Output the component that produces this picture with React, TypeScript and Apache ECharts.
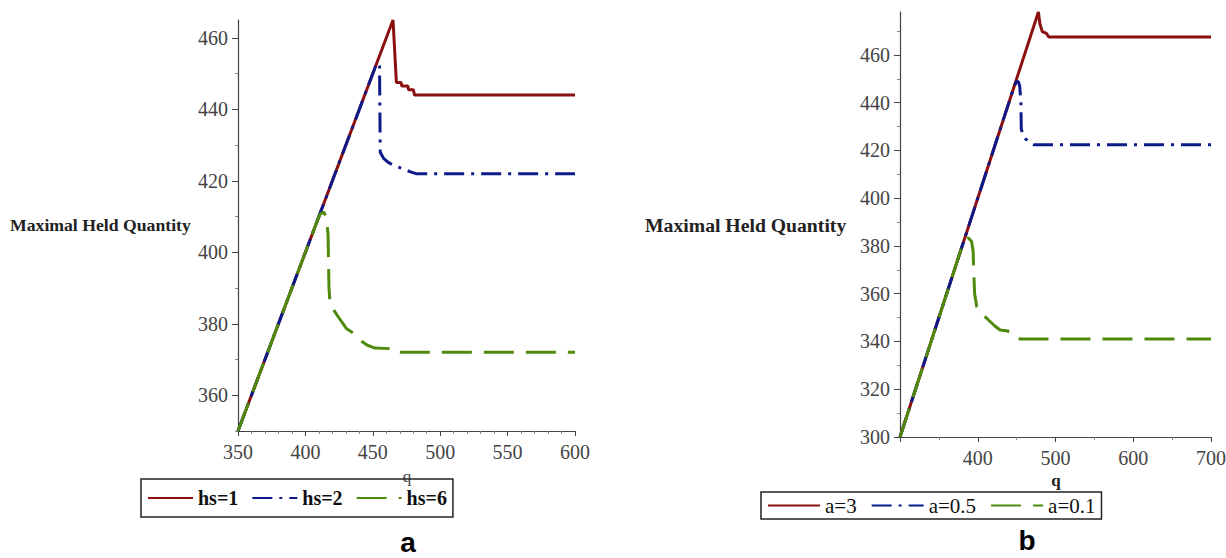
import React, { useEffect, useRef } from "react";
import * as echarts from "echarts";

// ---- Panel a: q vs Maximal Held Quantity for hs = 1, 2, 6
const hs1Q = [350, 465, 467.5, 471, 471.5, 476, 476.5, 480, 481, 600];
const hs1Y = [350, 465, 447.5, 447.5, 446.5, 446.5, 445.5, 445.5, 444, 444];
const hs2Q = [350, 452, 454, 455, 455.5, 458, 461, 465, 472, 478, 482, 600];
const hs2Y = [350, 452, 453, 452, 428, 426.3, 425.3, 424.4, 423.4, 422.5, 422, 422];
const hs6Q = [350, 409, 411, 413.5, 415.5, 416.8, 417.5, 418.2, 420.7, 425.7, 430.6, 435.5, 441.7, 446, 451.6, 466, 468, 600];
const hs6Y = [350, 409, 410.7, 411.3, 410, 405, 390, 386, 384, 381.2, 378.6, 377.4, 375.1, 374, 373.2, 373, 372, 372];

// ---- Panel b: q vs Maximal Held Quantity for a = 3, 0.5, 0.1
const a3Q = [300, 478, 480, 483, 488.5, 491.5, 700];
const a3Y = [300, 478, 473, 469.8, 469, 467.5, 467.5];
const a05Q = [300, 446, 449, 452, 454, 455.5, 456, 458, 461, 466, 472, 700];
const a05Y = [300, 446, 448.5, 449, 447, 440, 429, 426.5, 425, 423.6, 422.4, 422.4];
const a01Q = [300, 380, 384, 388, 392, 394, 395, 396, 398.7, 405, 413.8, 422, 428.7, 437, 446, 450, 455, 700];
const a01Y = [300, 380, 382.5, 383.3, 382, 378, 368, 360, 354.6, 351.8, 349, 346.5, 344.8, 344.5, 343.4, 341.6, 341, 341];

// ---- ticks
const leftYLabels = [360, 380, 400, 420, 440, 460];
const leftYMinor = [350, 370, 390, 410, 430, 450];
const rightYLabels = [300, 320, 340, 360, 380, 400, 420, 440, 460];
const rightYMinor = [310, 330, 350, 370, 390, 410, 430, 450, 470];

const namesA = ["hs=1", "hs=2", "hs=6"];
const namesB = ["a=3", "a=0.5", "a=0.1"];

const RED = "#8a1010";
const BLUE = "#0c1a8a";
const GREEN = "#4f8a0c";
const AXIS = "#444";
const SERIF = "Liberation Serif";

const zip = (q: number[], y: number[]) => q.map((v, i) => [v, y[i]]);

function lineSeries(name: string, q: number[], y: number[], color: string, type: any, gi: number, yi: number, z: number) {
  return {
    type: "line",
    name,
    xAxisIndex: gi,
    yAxisIndex: yi,
    data: zip(q, y),
    symbol: "none",
    showSymbol: false,
    z,
    itemStyle: { color },
    lineStyle: { color, width: 3, type, cap: "butt" },
  };
}

function xAxis(gi: number, min: number, max: number, interval: number, minorSplit: number, hideMin: boolean) {
  return {
    type: "value",
    gridIndex: gi,
    min,
    max,
    interval,
    axisLine: { show: true, onZero: false, lineStyle: { color: AXIS, width: 1.2 } },
    axisTick: { show: true, length: 5, lineStyle: { color: AXIS } },
    minorTick: { show: true, splitNumber: minorSplit, length: 3, lineStyle: { color: "#888" } },
    splitLine: { show: false },
    axisLabel: {
      fontFamily: SERIF,
      fontSize: 20,
      color: AXIS,
      margin: 11,
      formatter: (v: number) => (hideMin && v === min ? "" : String(v)),
    },
  };
}

function yAxisMajor(gi: number, min: number, max: number, labels: number[]) {
  return {
    type: "value",
    gridIndex: gi,
    min,
    max,
    position: "left",
    axisLine: { show: true, onZero: false, lineStyle: { color: AXIS, width: 1.2 } },
    axisTick: { show: true, length: 6, customValues: labels, lineStyle: { color: AXIS } },
    splitLine: { show: false },
    axisLabel: { fontFamily: SERIF, fontSize: 20, color: AXIS, margin: 10, customValues: labels },
  };
}

function yAxisMinor(gi: number, min: number, max: number, ticks: number[]) {
  return {
    type: "value",
    gridIndex: gi,
    min,
    max,
    position: "left",
    axisLine: { show: false, onZero: false },
    axisTick: { show: true, length: 3, customValues: ticks, lineStyle: { color: "#888" } },
    splitLine: { show: false },
    axisLabel: { show: false },
  };
}

export default function App() {
  const ref = useRef<HTMLDivElement>(null);
  useEffect(() => {
    if (!ref.current) return;
    const chart = echarts.init(ref.current, null, { renderer: "svg" });
    const option: any = {
      animation: false,
      backgroundColor: "#fff",
      textStyle: { fontFamily: SERIF },
      grid: [
        { left: 238, top: 20, width: 337, height: 411, outerBoundsMode: "none" },
        { left: 900, top: 12, width: 311, height: 425, outerBoundsMode: "none" },
      ],
      xAxis: [xAxis(0, 350, 600, 50, 5, false), xAxis(1, 300, 700, 100, 2, true)],
      yAxis: [
        yAxisMajor(0, 350, 465, leftYLabels),
        yAxisMinor(0, 350, 465, leftYMinor),
        yAxisMajor(1, 300, 478, rightYLabels),
        yAxisMinor(1, 300, 478, rightYMinor),
      ],
      legend: [
        {
          data: namesA,
          left: 141,
          top: 479,
          orient: "horizontal",
          borderColor: "#222",
          borderWidth: 1.5,
          padding: [9, 6],
          itemGap: 13,
          itemWidth: 45,
          itemHeight: 3,
          itemStyle: { opacity: 0 },
          textStyle: { fontFamily: SERIF, fontWeight: "bold", fontSize: 20, color: "#111" },
        },
        {
          data: namesB,
          left: 761,
          top: 492,
          orient: "horizontal",
          borderColor: "#222",
          borderWidth: 1.5,
          padding: [3, 6],
          itemGap: 14,
          itemWidth: 52,
          itemHeight: 3,
          itemStyle: { opacity: 0 },
          textStyle: { fontFamily: SERIF, fontSize: 21, color: "#111" },
        },
      ],
      graphic: [
        {
          type: "text",
          x: 10,
          y: 225,
          style: { text: "Maximal Held Quantity", fontFamily: SERIF, fontWeight: "bold", fontSize: 17.7, fill: "#222", verticalAlign: "middle" },
        },
        {
          type: "text",
          x: 645,
          y: 225,
          style: { text: "Maximal Held Quantity", fontFamily: SERIF, fontWeight: "bold", fontSize: 19.7, fill: "#222", verticalAlign: "middle" },
        },
        {
          type: "text",
          x: 407,
          y: 476,
          style: { text: "q", fontFamily: SERIF, fontSize: 17, fill: AXIS, align: "center", verticalAlign: "middle" },
        },
        {
          type: "text",
          x: 1056,
          y: 480,
          style: { text: "q", fontFamily: SERIF, fontWeight: "bold", fontSize: 17, fill: "#222", align: "center", verticalAlign: "middle" },
        },
        {
          type: "text",
          x: 408,
          y: 542,
          style: { text: "a", fontFamily: "Liberation Sans", fontWeight: "bold", fontSize: 28, fill: "#000", align: "center", verticalAlign: "middle" },
        },
        {
          type: "text",
          x: 1027,
          y: 540,
          style: { text: "b", fontFamily: "Liberation Sans", fontWeight: "bold", fontSize: 28, fill: "#000", align: "center", verticalAlign: "middle" },
        },
      ],
      series: [
        lineSeries("hs=1", hs1Q, hs1Y, RED, "solid", 0, 0, 2),
        lineSeries("hs=2", hs2Q, hs2Y, BLUE, [20, 7, 3, 7], 0, 0, 3),
        lineSeries("hs=6", hs6Q, hs6Y, GREEN, [30, 12], 0, 0, 4),
        lineSeries("a=3", a3Q, a3Y, RED, "solid", 1, 2, 2),
        lineSeries("a=0.5", a05Q, a05Y, BLUE, [20, 7, 3, 7], 1, 2, 3),
        lineSeries("a=0.1", a01Q, a01Y, GREEN, [30, 12], 1, 2, 4),
      ],
    };
    chart.setOption(option);
    return () => chart.dispose();
  }, []);
  return (
    <div
      ref={ref}
      style={{ position: "fixed", left: 0, top: 0, width: 1226, height: 558, background: "#fff" }}
    />
  );
}
